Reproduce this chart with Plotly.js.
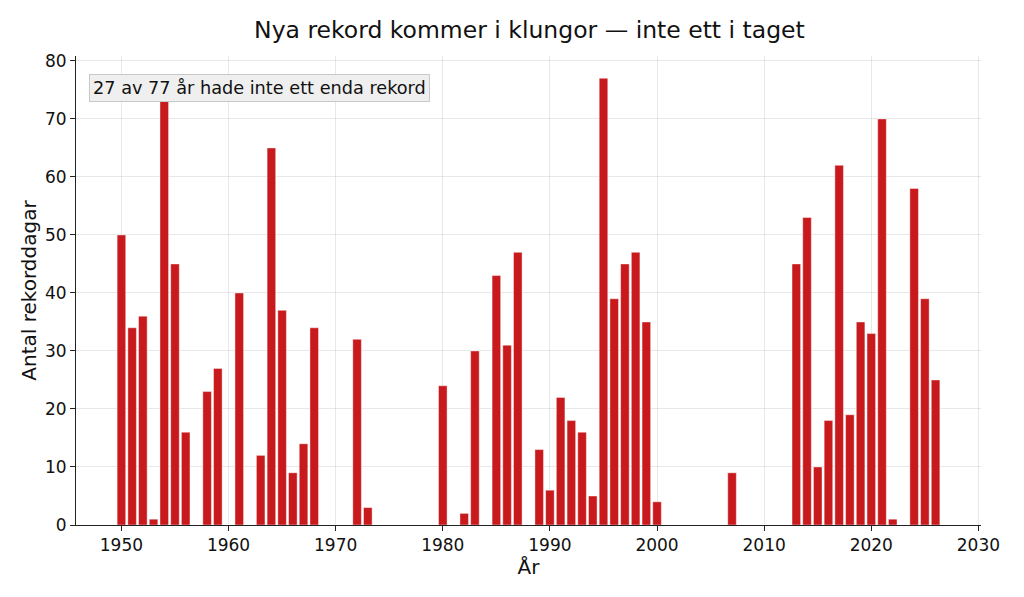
<!DOCTYPE html>
<html>
<head>
<meta charset="utf-8">
<script src="https://cdn.plot.ly/plotly-3.0.1.min.js"></script>
<style>html,body{margin:0;padding:0;background:#fff;}#chart{width:1024px;height:597px;}</style>
</head>
<body>
<div id="chart"></div>
<script>
const years = [];
for (let y = 1950; y <= 2026; y++) years.push(y);
const recordDays = [
  50, 34, 36, 1, 73, 45, 16, 0, 23, 27,
  0, 40, 0, 12, 65, 37, 9, 14, 34, 0,
  0, 0, 32, 3, 0, 0, 0, 0, 0, 0,
  24, 0, 2, 30, 0, 43, 31, 47, 0, 13,
  6, 22, 18, 16, 5, 77, 39, 45, 47, 35,
  4, 0, 0, 0, 0, 0, 0, 9, 0, 0,
  0, 0, 0, 45, 53, 10, 18, 62, 19, 35,
  33, 70, 1, 0, 58, 39, 25
];
const xTicks = [1950, 1960, 1970, 1980, 1990, 2000, 2010, 2020, 2030];
const yTicks = [0, 10, 20, 30, 40, 50, 60, 70, 80];
const titleText = 'Nya rekord kommer i klungor — inte ett i taget';
const noteText = '27 av 77 år hade inte ett enda rekord';

const font = 'DejaVu Sans, sans-serif';
const trace = {
  type: 'bar',
  x: years,
  y: recordDays,
  width: 0.8,
  marker: {color: '#c8191c', line: {color: 'rgba(255,255,255,0.7)', width: 0.6}},
  hoverinfo: 'x+y'
};
const layout = {
  width: 1024, height: 597,
  margin: {l: 76, r: 43, t: 56, b: 72},
  paper_bgcolor: '#fff', plot_bgcolor: '#fff',
  font: {family: font, color: '#111', size: 17},
  title: {text: titleText, font: {size: 23.5, family: font, color: '#111'}, x: 0.517, xanchor: 'center', y: 0.95, yanchor: 'middle'},
  showlegend: false,
  bargap: 0,
  xaxis: {
    range: [1945.76, 2030.24],
    tickvals: xTicks, ticktext: xTicks.map(String),
    ticks: 'outside', ticklen: 5, tickcolor: '#222', tickwidth: 1,
    showline: true, linecolor: '#222', linewidth: 1,
    showgrid: true, gridcolor: 'rgba(0,0,0,0.09)', gridwidth: 1,
    zeroline: false,
    tickfont: {size: 17, family: font, color: '#111'},
    title: {text: 'År', font: {size: 20, family: font, color: '#111'}, standoff: 2},
    layer: 'above traces'
  },
  yaxis: {
    range: [0, 80.85],
    tickvals: yTicks, ticktext: yTicks.map(String),
    ticks: 'outside', ticklen: 5, tickcolor: '#222', tickwidth: 1,
    showline: true, linecolor: '#222', linewidth: 1,
    showgrid: true, gridcolor: 'rgba(0,0,0,0.09)', gridwidth: 1,
    zeroline: false,
    tickfont: {size: 17, family: font, color: '#111'},
    title: {text: 'Antal rekorddagar', font: {size: 20, family: font, color: '#111'}, standoff: 2},
    layer: 'above traces'
  },
  annotations: [{
    xref: 'paper', yref: 'paper', x: 0.014, y: 0.962,
    xanchor: 'left', yanchor: 'top',
    text: noteText, showarrow: false,
    font: {size: 17.7, family: font, color: '#111'},
    bgcolor: '#efefef', bordercolor: '#c8c8c8', borderwidth: 1, borderpad: 3
  }]
};
Plotly.newPlot('chart', [trace], layout, {displayModeBar: false, staticPlot: true});
</script>
</body>
</html>
